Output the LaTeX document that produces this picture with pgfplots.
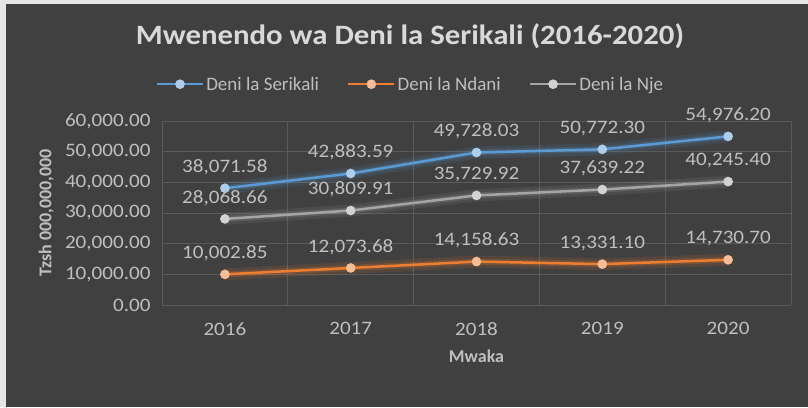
\documentclass[border=0pt]{standalone}
\usepackage{pgfplots}
\pgfplotsset{compat=1.18}
\usepackage{fontspec}
\setmainfont{Carlito}
\newfontfamily\numfont[FakeStretch=1.11]{Carlito}
\newfontfamily\titlefont[FakeStretch=1.1]{Carlito}
\definecolor{bg}{HTML}{404040}
\definecolor{frame}{HTML}{E6E6E6}
\definecolor{titlec}{HTML}{D9D9D9}
\definecolor{labc}{HTML}{BFBFBF}
\definecolor{gridc}{HTML}{5A5A5A}
\definecolor{sblue}{HTML}{5B9BD5}
\definecolor{sorange}{HTML}{ED7D31}
\definecolor{sgray}{HTML}{A5A5A5}
\begin{document}
\begin{tikzpicture}[x=1pt,y=1pt]
\fill[frame] (0,0) rectangle (808,407);
\fill[bg] (6,0) rectangle (808,403);
\path[use as bounding box] (0,0) rectangle (808,407);
\node[font=\titlefont\fontsize{28}{32}\selectfont\bfseries, text=titlec] at (410,371) {Mwenendo wa Deni la Serikali (2016-2020)};
\begin{axis}[
  at={(162pt,102pt)}, anchor=south west, scale only axis,
  width=629pt, height=184pt,
  xmin=-0.5, xmax=4.5, ymin=0, ymax=60000,
  xtick={0,1,2,3,4}, xticklabels={2016,2017,2018,2019,2020},
  minor xtick={-0.5,0.5,1.5,2.5,3.5,4.5},
  ytick={0,10000,20000,30000,40000,50000,60000},
  xminorgrids, ymajorgrids,
  grid style={draw=gridc, line width=0.8pt},
  minor grid style={draw=gridc, line width=0.8pt},
  axis line style={draw=none},
  major tick style={draw=none}, minor tick style={draw=none},
  ticklabel style={text=labc, font=\numfont\fontsize{19}{22}\selectfont},
  /pgf/number format/assume math mode=true,
  yticklabel style={/pgf/number format/fixed, /pgf/number format/fixed zerofill, /pgf/number format/precision=2, /pgf/number format/1000 sep={,}, xshift=-8pt},
  scaled y ticks=false,
  xticklabel style={yshift=-14pt},
  xlabel={Mwaka}, ylabel={Tzsh 000,000,000},
  label style={text=labc, font=\fontsize{18}{21}\selectfont\bfseries},
  xlabel style={at={(axis description cs:0.5,-0.277)}, anchor=center},
  ylabel style={at={(axis description cs:-0.184,0.5)}, anchor=center},
  legend columns=3,
  legend style={draw=none, fill=none, at={(0.395,1.20)}, anchor=center,
    text=labc, font=\fontsize{19}{22}\selectfont,
    /tikz/every even column/.append style={column sep=26pt}},
  legend image code/.code={\draw[mark repeat=2,mark phase=2,#1] plot coordinates {(0pt,0pt) (23pt,0pt) (46pt,0pt)};},
  nodes near coords, point meta=explicit symbolic,
  every node near coord/.append style={text=labc, font=\numfont\fontsize{19}{22}\selectfont, anchor=center, yshift=21pt},
]
% glow layers
\addplot[forget plot, sblue, opacity=0.12, line width=12pt, nodes near coords=\relax] coordinates {(0,38071.58)(1,42883.59)(2,49728.03)(3,50772.30)(4,54976.20)};
\addplot[forget plot, sorange, opacity=0.12, line width=12pt, nodes near coords=\relax] coordinates {(0,10002.85)(1,12073.68)(2,14158.63)(3,13331.10)(4,14730.70)};
\addplot[forget plot, sgray, opacity=0.12, line width=12pt, nodes near coords=\relax] coordinates {(0,28068.66)(1,30809.91)(2,35729.92)(3,37639.22)(4,40245.40)};
\addplot[forget plot, sblue, opacity=0.2, line width=6pt, nodes near coords=\relax] coordinates {(0,38071.58)(1,42883.59)(2,49728.03)(3,50772.30)(4,54976.20)};
\addplot[forget plot, sorange, opacity=0.2, line width=6pt, nodes near coords=\relax] coordinates {(0,10002.85)(1,12073.68)(2,14158.63)(3,13331.10)(4,14730.70)};
\addplot[forget plot, sgray, opacity=0.2, line width=6pt, nodes near coords=\relax] coordinates {(0,28068.66)(1,30809.91)(2,35729.92)(3,37639.22)(4,40245.40)};
% main series
\addplot[sblue, line width=2.5pt, mark=*, mark size=3.5pt, mark options={fill=sblue!50!white, draw=sblue!50!white}]
 coordinates {(0,38071.58)[38,071.58] (1,42883.59)[42,883.59] (2,49728.03)[49,728.03] (3,50772.30)[50,772.30] (4,54976.20)[54,976.20]};
\addlegendentry{Deni la Serikali}
\addplot[sorange, line width=2.5pt, mark=*, mark size=3.5pt, mark options={fill=sorange!50!white, draw=sorange!50!white}]
 coordinates {(0,10002.85)[10,002.85] (1,12073.68)[12,073.68] (2,14158.63)[14,158.63] (3,13331.10)[13,331.10] (4,14730.70)[14,730.70]};
\addlegendentry{Deni la Ndani}
\addplot[sgray, line width=2.5pt, mark=*, mark size=3.5pt, mark options={fill=sgray!50!white, draw=sgray!50!white}]
 coordinates {(0,28068.66)[28,068.66] (1,30809.91)[30,809.91] (2,35729.92)[35,729.92] (3,37639.22)[37,639.22] (4,40245.40)[40,245.40]};
\addlegendentry{Deni la Nje}
\end{axis}
\end{tikzpicture}
\end{document}
